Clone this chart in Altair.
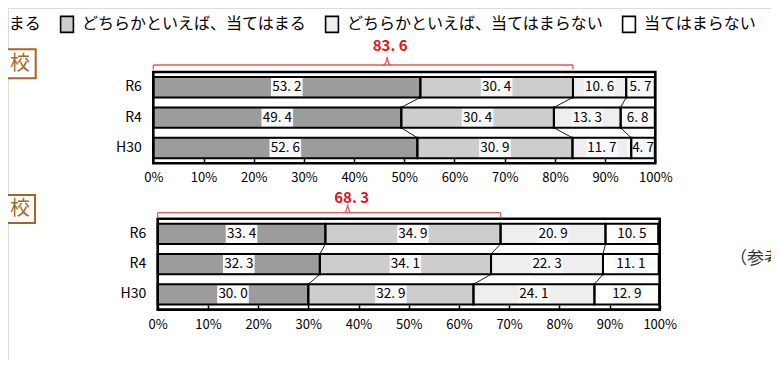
import altair as alt
import pandas as pd

# ---------------- data ----------------
categories = ["当てはまる", "どちらかといえば、当てはまる",
              "どちらかといえば、当てはまらない", "当てはまらない"]
years = ["R6", "R4", "H30"]

panel1_R6 = [53.2, 30.4, 10.6, 5.7]
panel1_R4 = [49.4, 30.4, 13.3, 6.8]
panel1_H30 = [52.6, 30.9, 11.7, 4.7]

panel2_R6 = [33.4, 34.9, 20.9, 10.5]
panel2_R4 = [32.3, 34.1, 22.3, 11.1]
panel2_H30 = [30.0, 32.9, 24.1, 12.9]

x_ticks = [0, 10, 20, 30, 40, 50, 60, 70, 80, 90, 100]
panel_label = "校"
side_note = "（参考）"

# ---------------- styles ----------------
FONT = "Noto Sans CJK JP"
fills = ["#9c9c9c", "#cdcdcd", "#eeeeee", "#ffffff"]
RED_LINE = "#e8565a"
RED_TEXT = "#e3101c"
BROWN = "#a8651f"
P_IN = 0.33
P_OUT = P_IN / 2


def fmt(v):
    return f"{v:.1f}".replace(".", ". ")


def tables(rows):
    seg, con = [], []
    cums = {}
    for y in years:
        vals = rows[y]
        s = 0.0
        cums[y] = []
        for c, v in zip(categories, vals):
            seg.append({"year": y, "cat": c, "start": s, "end": s + v,
                        "mid": s + v / 2, "label": fmt(v)})
            s += v
            cums[y].append(s)
    for a, b in zip(years[:-1], years[1:]):
        for k in range(3):
            con.append({"ya": a, "yb": b, "xa": cums[a][k], "xb": cums[b][k]})
    hi = cums[years[0]][1]
    brace = pd.DataFrame([{"lo": 0.0, "hi": hi, "bmid": hi / 2,
                           "blabel": fmt(hi)}])
    frame = pd.DataFrame([{"lo": x_ticks[0], "hi": x_ticks[-1]}])
    return pd.DataFrame(seg), pd.DataFrame(con), brace, frame


legend = alt.Legend(
    orient="none", legendX=-71, legendY=7, direction="horizontal", columns=4,
    title=None, labelFont=FONT, labelFontSize=16, labelColor="black",
    labelLimit=600, symbolType="M-0.8,-1H0.8V1H-0.8Z", symbolSize=256,
    symbolStrokeColor="black", symbolStrokeWidth=1.6, symbolOpacity=1,
    labelOffset=6, columnPadding=15, padding=0,
)


def panel(rows, xr, yr, x_off, y_off, tick, brace_y, label_y, peak_dx, label_dx):
    seg, con, brace, frame = tables(rows)
    bw = (yr[1] - yr[0]) / 3 * (1 - P_IN)

    xaxis = alt.Axis(orient="bottom", offset=x_off, values=x_ticks,
                     labelExpr="datum.value + '%'", title=None, domain=False,
                     grid=False, ticks=True, tickSize=tick, tickWidth=1.5,
                     tickColor="black", labelPadding=10, labelFont=FONT,
                     labelFontSize=13, labelColor="black", labelFlush=False)
    yaxis = alt.Axis(orient="left", offset=y_off, title=None, domain=False,
                     ticks=False, grid=False, labelPadding=12, labelFont=FONT,
                     labelFontSize=14, labelColor="black")
    xs = alt.Scale(domain=[x_ticks[0], x_ticks[-1]], range=xr, nice=False, zero=False)
    ys = alt.Scale(domain=years, range=yr, paddingInner=P_IN, paddingOuter=P_OUT)

    def X(f):
        return alt.X(f, type="quantitative", scale=xs, axis=xaxis)

    def Y(f):
        return alt.Y(f, type="nominal", sort=years, scale=ys, axis=yaxis)

    base = alt.Chart(seg)
    fill_l = base.mark_bar(strokeWidth=0, opacity=1).encode(
        x=X("start"), x2="end", y=Y("year"),
        fill=alt.Fill("cat:N", scale=alt.Scale(domain=categories, range=fills),
                      legend=legend),
    )
    boxes = base.mark_point(shape="M-1,-0.58H1V0.58H-1Z", filled=True,
                            fill="#f8f8f8", opacity=1, size=1000,
                            strokeWidth=0).encode(x=X("mid"), y=Y("year"))
    outline = base.mark_bar(fillOpacity=0, stroke="black", strokeWidth=2).encode(
        x=X("start"), x2="end", y=Y("year"))
    texts = base.mark_text(font=FONT, fontSize=13.5, color="black").encode(
        x=X("mid"), y=Y("year"), text="label:N")
    conns = alt.Chart(con).mark_rule(color="black", strokeWidth=0.9,
                                     yOffset=bw / 2, y2Offset=-bw / 2).encode(
        x=X("xa"), x2="xb", y=Y("ya"), y2="yb")
    frame_l = alt.Chart(frame).mark_rect(fillOpacity=0, stroke="black",
                                         strokeWidth=2.6).encode(
        x=X("lo"), x2="hi", y=alt.value(yr[0]), y2=alt.value(yr[1]))
    bb = alt.Chart(brace)
    b_line = bb.mark_rule(color=RED_LINE, strokeWidth=1.3).encode(
        x=X("lo"), x2="hi", y=alt.value(brace_y))
    b_left = bb.mark_rule(color=RED_LINE, strokeWidth=1.3).encode(
        x=X("lo"), y=alt.value(brace_y), y2=alt.value(brace_y + 4.5))
    b_right = bb.mark_rule(color=RED_LINE, strokeWidth=1.3).encode(
        x=X("hi"), y=alt.value(brace_y), y2=alt.value(brace_y + 4.5))
    b_peak = bb.mark_point(shape="M-1,1Q-0.25,1 0,-1Q0.25,1 1,1", filled=False,
                           stroke=RED_LINE, strokeWidth=1.3, size=70, opacity=1,
                           xOffset=peak_dx).encode(
        x=X("bmid"), y=alt.value(brace_y - 4))
    b_text = bb.mark_text(font=FONT, fontSize=15, fontWeight="bold",
                          color=RED_TEXT, dx=label_dx).encode(
        x=X("bmid"), y=alt.value(label_y), text="blabel:N")
    return alt.layer(fill_l, boxes, outline, conns, texts, frame_l,
                     b_line, b_left, b_right, b_peak, b_text)


p1 = panel({"R6": panel1_R6, "R4": panel1_R4, "H30": panel1_H30},
           xr=[145.3, 647.3], yr=[64.0, 155.2], x_off=150.3 - 352, y_off=-145.3,
           tick=3.5, brace_y=57, label_y=38, peak_dx=24, label_dx=27)
p2 = panel({"R6": panel2_R6, "R4": panel2_R4, "H30": panel2_H30},
           xr=[149.7, 651.7], yr=[210.7, 301.6], x_off=297 - 352, y_off=-149.7,
           tick=3.5, brace_y=204.7, label_y=190, peak_dx=18.5, label_dx=22.5)

deco_df = pd.DataFrame([{"t": panel_label, "n": side_note}])
deco = alt.Chart(deco_df)
box1 = deco.mark_rect(fill="white", stroke=BROWN, strokeWidth=2).encode(
    x=alt.value(-20), x2=alt.value(27.7), y=alt.value(41.3), y2=alt.value(70.3))
box2 = deco.mark_rect(fill="white", stroke=BROWN, strokeWidth=2).encode(
    x=alt.value(-20), x2=alt.value(27), y=alt.value(187), y2=alt.value(215))
t1 = deco.mark_text(font=FONT, fontSize=20, color=BROWN, align="right",
                    baseline="middle").encode(x=alt.value(22), y=alt.value(55.8), text="t:N")
t2 = deco.mark_text(font=FONT, fontSize=20, color=BROWN, align="right",
                    baseline="middle").encode(x=alt.value(22), y=alt.value(201), text="t:N")
note = deco.mark_text(font=FONT, fontSize=17, color="#333333", align="left",
                      baseline="middle").encode(x=alt.value(722), y=alt.value(250.5), text="n:N")

chart = alt.layer(p1, p2, box1, box2, t1, t2, note).resolve_scale(
    x="independent", y="independent", fill="shared"
).properties(
    width=763, height=352, autosize=alt.AutoSizeParams(type="none"), padding=0
).configure_view(stroke=None).configure(font=FONT)

chart.save("out.html", embed_options={"renderer": "svg", "actions": False})
